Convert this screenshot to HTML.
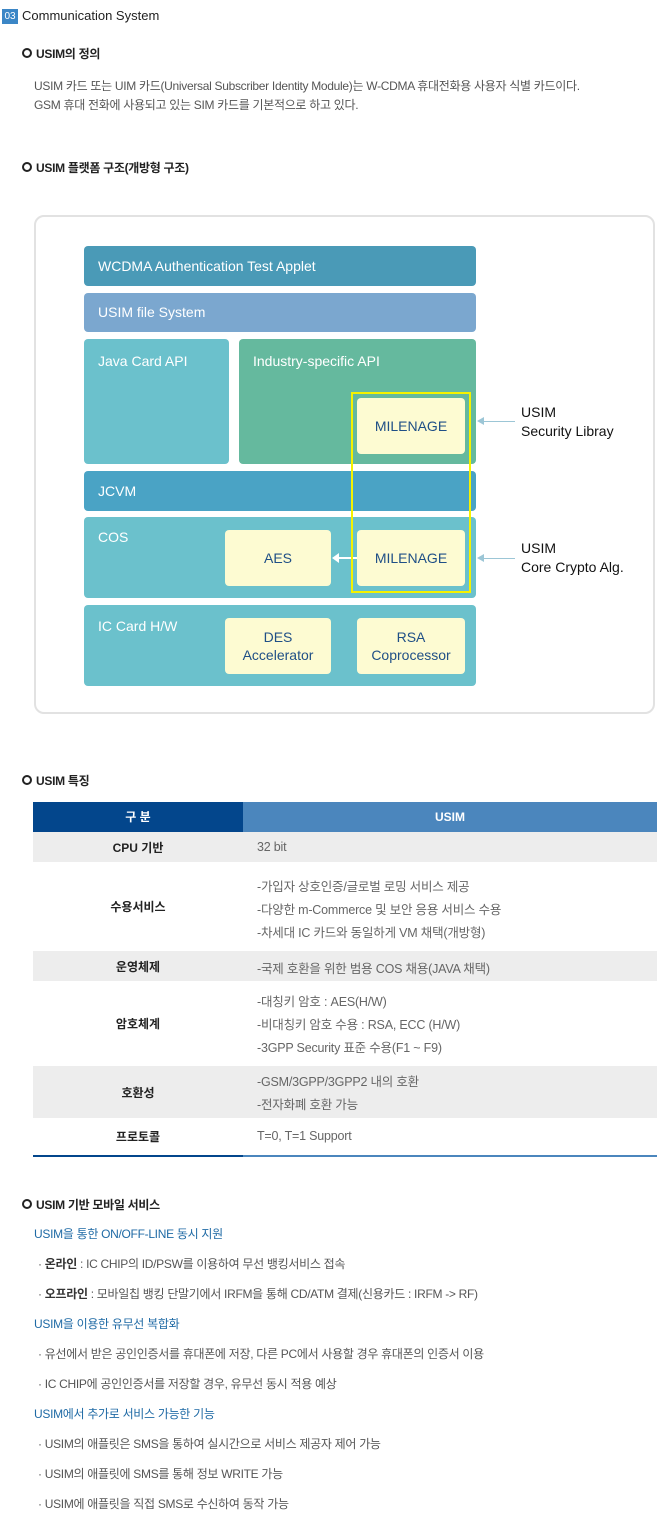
<!DOCTYPE html>
<html><head><meta charset="utf-8"><style>
*{margin:0;padding:0;box-sizing:border-box}
body{width:668px;height:1524px;background:#fff;position:relative;font-family:"Liberation Sans","Noto Sans CJK KR",sans-serif;color:#555;overflow:hidden}
.a{position:absolute;white-space:nowrap}
.h{font-size:12px;color:#222;font-weight:bold;letter-spacing:-0.3px}
.h:before{content:"";display:inline-block;width:6px;height:6px;border:2px solid #222;border-radius:50%;margin-right:4px;vertical-align:0px}
.t{font-size:12px;color:#555;letter-spacing:-0.3px}
.b{position:absolute;border-radius:4px;color:#fff;font-size:14px;padding-left:14px}
.y{position:absolute;background:#fdfbd2;border-radius:4px;color:#1f4f86;font-size:14px;text-align:center;display:flex;align-items:center;justify-content:center;line-height:18px}
.row{position:absolute;left:33px;width:624px}
.row .l{position:absolute;left:0;width:210px;top:0;bottom:0;display:flex;align-items:center;justify-content:center;font-size:12px;color:#222;font-weight:bold}
.row .r{position:absolute;left:224px;font-size:12.5px;color:#666;letter-spacing:-0.2px}
.g{background:#ededed}
.s{font-size:12px;color:#1f6aa5;letter-spacing:-0.3px}
</style></head><body>
<div class="a" style="left:2px;top:9px;width:16px;height:15px;background:#3b86c6;color:#fff;font-size:10px;text-align:center;line-height:15px">03</div>
<div class="a" style="left:22px;top:8px;font-size:13px;color:#222">Communication System</div>
<div class="a h" style="left:22px;top:45px">USIM의 정의</div>
<div class="a t" style="left:34px;top:77px">USIM 카드 또는 UIM 카드(Universal Subscriber Identity Module)는 W-CDMA 휴대전화용 사용자 식별 카드이다.</div>
<div class="a t" style="left:34px;top:96px">GSM 휴대 전화에 사용되고 있는 SIM 카드를 기본적으로 하고 있다.</div>
<div class="a h" style="left:22px;top:159px">USIM 플랫폼 구조(개방형 구조)</div>

<div class="a" style="left:34px;top:215px;width:621px;height:499px;border:2px solid #e2e2e2;border-radius:10px"></div>
<div class="b" style="left:84px;top:246px;width:392px;height:40px;background:#4a9ab7;line-height:40px">WCDMA Authentication Test Applet</div>
<div class="b" style="left:84px;top:293px;width:392px;height:39px;background:#7ba7cf;line-height:39px">USIM file System</div>
<div class="b" style="left:84px;top:339px;width:145px;height:125px;background:#6bc1cc;padding-top:14px">Java Card API</div>
<div class="b" style="left:239px;top:339px;width:237px;height:125px;background:#65b99e;padding-top:14px">Industry-specific API</div>
<div class="y" style="left:357px;top:398px;width:108px;height:56px">MILENAGE</div>
<div class="b" style="left:84px;top:471px;width:392px;height:40px;background:#4aa3c5;line-height:40px">JCVM</div>
<div class="b" style="left:84px;top:517px;width:392px;height:81px;background:#6bc1cc;padding-top:12px">COS</div>
<div class="y" style="left:225px;top:530px;width:106px;height:56px">AES</div>
<div class="y" style="left:357px;top:530px;width:108px;height:56px">MILENAGE</div>
<div class="a" style="left:338px;top:557px;width:19px;height:2px;background:#fff"></div>
<div class="a" style="left:332px;top:553px;width:0;height:0;border-top:5px solid transparent;border-bottom:5px solid transparent;border-right:7px solid #fff"></div>
<div class="b" style="left:84px;top:605px;width:392px;height:81px;background:#6bc1cc;padding-top:13px">IC Card H/W</div>
<div class="y" style="left:225px;top:618px;width:106px;height:56px">DES<br>Accelerator</div>
<div class="y" style="left:357px;top:618px;width:108px;height:56px">RSA<br>Coprocessor</div>
<div class="a" style="left:351px;top:392px;width:120px;height:201px;border:2px solid #f5f200"></div>
<div class="a" style="left:480px;top:421px;width:35px;height:1px;background:#9cc6d6"></div>
<div class="a" style="left:477px;top:417px;width:0;height:0;border-top:4px solid transparent;border-bottom:4px solid transparent;border-right:7px solid #9cc6d6"></div>
<div class="a" style="left:480px;top:558px;width:35px;height:1px;background:#9cc6d6"></div>
<div class="a" style="left:477px;top:554px;width:0;height:0;border-top:4px solid transparent;border-bottom:4px solid transparent;border-right:7px solid #9cc6d6"></div>
<div class="a" style="left:521px;top:403px;font-size:14px;color:#111;line-height:19px">USIM<br>Security Libray</div>
<div class="a" style="left:521px;top:539px;font-size:14px;color:#111;line-height:19px">USIM<br>Core Crypto Alg.</div>

<div class="a h" style="left:22px;top:772px">USIM 특징</div>
<div class="a" style="left:33px;top:802px;width:210px;height:30px;background:#03468c;color:#fff;font-weight:bold;font-size:12px;text-align:center;line-height:30px">구 분</div>
<div class="a" style="left:243px;top:802px;width:414px;height:30px;background:#4b86bd;color:#fff;font-weight:bold;font-size:12px;text-align:center;line-height:30px">USIM</div>
<div class="row g" style="top:832px;height:30px"><div class="l">CPU 기반</div><div class="r" style="top:8px">32 bit</div></div>
<div class="row" style="top:862px;height:89px"><div class="l">수용서비스</div><div class="r" style="top:14px;line-height:23px">-가입자 상호인증/글로벌 로밍 서비스 제공<br>-다양한 m-Commerce 및 보안 응용 서비스 수용<br>-차세대 IC 카드와 동일하게 VM 채택(개방형)</div></div>
<div class="row g" style="top:951px;height:30px"><div class="l">운영체제</div><div class="r" style="top:7px">-국제 호환을 위한 범용 COS 채용(JAVA 채택)</div></div>
<div class="row" style="top:981px;height:85px"><div class="l">암호체계</div><div class="r" style="top:10px;line-height:23px">-대칭키 암호 : AES(H/W)<br>-비대칭키 암호 수용 : RSA, ECC (H/W)<br>-3GPP Security 표준 수용(F1 ~ F9)</div></div>
<div class="row g" style="top:1066px;height:52px"><div class="l">호환성</div><div class="r" style="top:5px;line-height:23px">-GSM/3GPP/3GPP2 내의 호환<br>-전자화폐 호환 가능</div></div>
<div class="row" style="top:1118px;height:37px"><div class="l">프로토콜</div><div class="r" style="top:11px">T=0, T=1 Support</div></div>
<div class="a" style="left:33px;top:1155px;width:210px;height:2px;background:#03468c"></div>
<div class="a" style="left:243px;top:1155px;width:414px;height:2px;background:#4b86bd"></div>

<div class="a h" style="left:22px;top:1196px">USIM 기반 모바일 서비스</div>
<div class="a s" style="left:34px;top:1225px">USIM을 통한 ON/OFF-LINE 동시 지원</div>
<div class="a t" style="left:38px;top:1255px">· <b style="color:#333">온라인</b> : IC CHIP의 ID/PSW를 이용하여 무선 뱅킹서비스 접속</div>
<div class="a t" style="left:38px;top:1285px">· <b style="color:#333">오프라인</b> : 모바일칩 뱅킹 단말기에서 IRFM을 통해 CD/ATM 결제(신용카드 : IRFM -&gt; RF)</div>
<div class="a s" style="left:34px;top:1315px">USIM을 이용한 유무선 복합화</div>
<div class="a t" style="left:38px;top:1345px">· 유선에서 받은 공인인증서를 휴대폰에 저장, 다른 PC에서 사용할 경우 휴대폰의 인증서 이용</div>
<div class="a t" style="left:38px;top:1375px">· IC CHIP에 공인인증서를 저장할 경우, 유무선 동시 적용 예상</div>
<div class="a s" style="left:34px;top:1405px">USIM에서 추가로 서비스 가능한 기능</div>
<div class="a t" style="left:38px;top:1435px">· USIM의 애플릿은 SMS을 통하여 실시간으로 서비스 제공자 제어 가능</div>
<div class="a t" style="left:38px;top:1465px">· USIM의 애플릿에 SMS를 통해 정보 WRITE 가능</div>
<div class="a t" style="left:38px;top:1495px">· USIM에 애플릿을 직접 SMS로 수신하여 동작 가능</div>
</body></html>
